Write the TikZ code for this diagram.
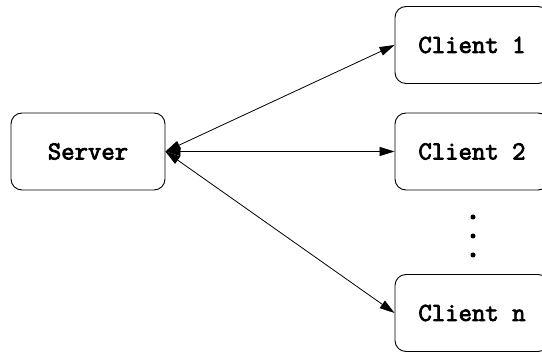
\documentclass[tikz,border=0pt]{standalone}
\usepackage{fontspec}
\newfontfamily\boxfont{Latin Modern Mono}[FakeBold=3]
\usetikzlibrary{arrows.meta}
\begin{document}
\begin{tikzpicture}[x=1pt,y=-1pt,
  box/.style={draw, line width=0.9pt, rounded corners=11pt, minimum width=154pt,
    minimum height=77pt, inner sep=0pt, font=\boxfont\fontsize{26}{30}\selectfont},
  link/.style={line width=0.8pt, {Triangle[length=15pt,width=9pt]}-{Triangle[length=15pt,width=9pt]}},
  dot/.style={circle, fill, inner sep=0pt, minimum size=5pt}]
  \clip (0,0) rectangle (542,352);
  \useasboundingbox (0,0) rectangle (542,352);
  \node[box] (srv) at (88,151.5) {Server};
  \node[box] (c1) at (472,45) {Client 1};
  \node[box] (c2) at (472,151.5) {Client 2};
  \node[box] (cn) at (472,313) {Client n};
  \node[dot] (d1) at (473,217) {};
  \node[dot] (d2) at (473,236) {};
  \node[dot] (d3) at (473,255) {};
  \draw[link] (srv.east) -- (c1.west);
  \draw[link] (srv.east) -- (c2.west);
  \draw[link] (srv.east) -- (cn.west);
\end{tikzpicture}
\end{document}
